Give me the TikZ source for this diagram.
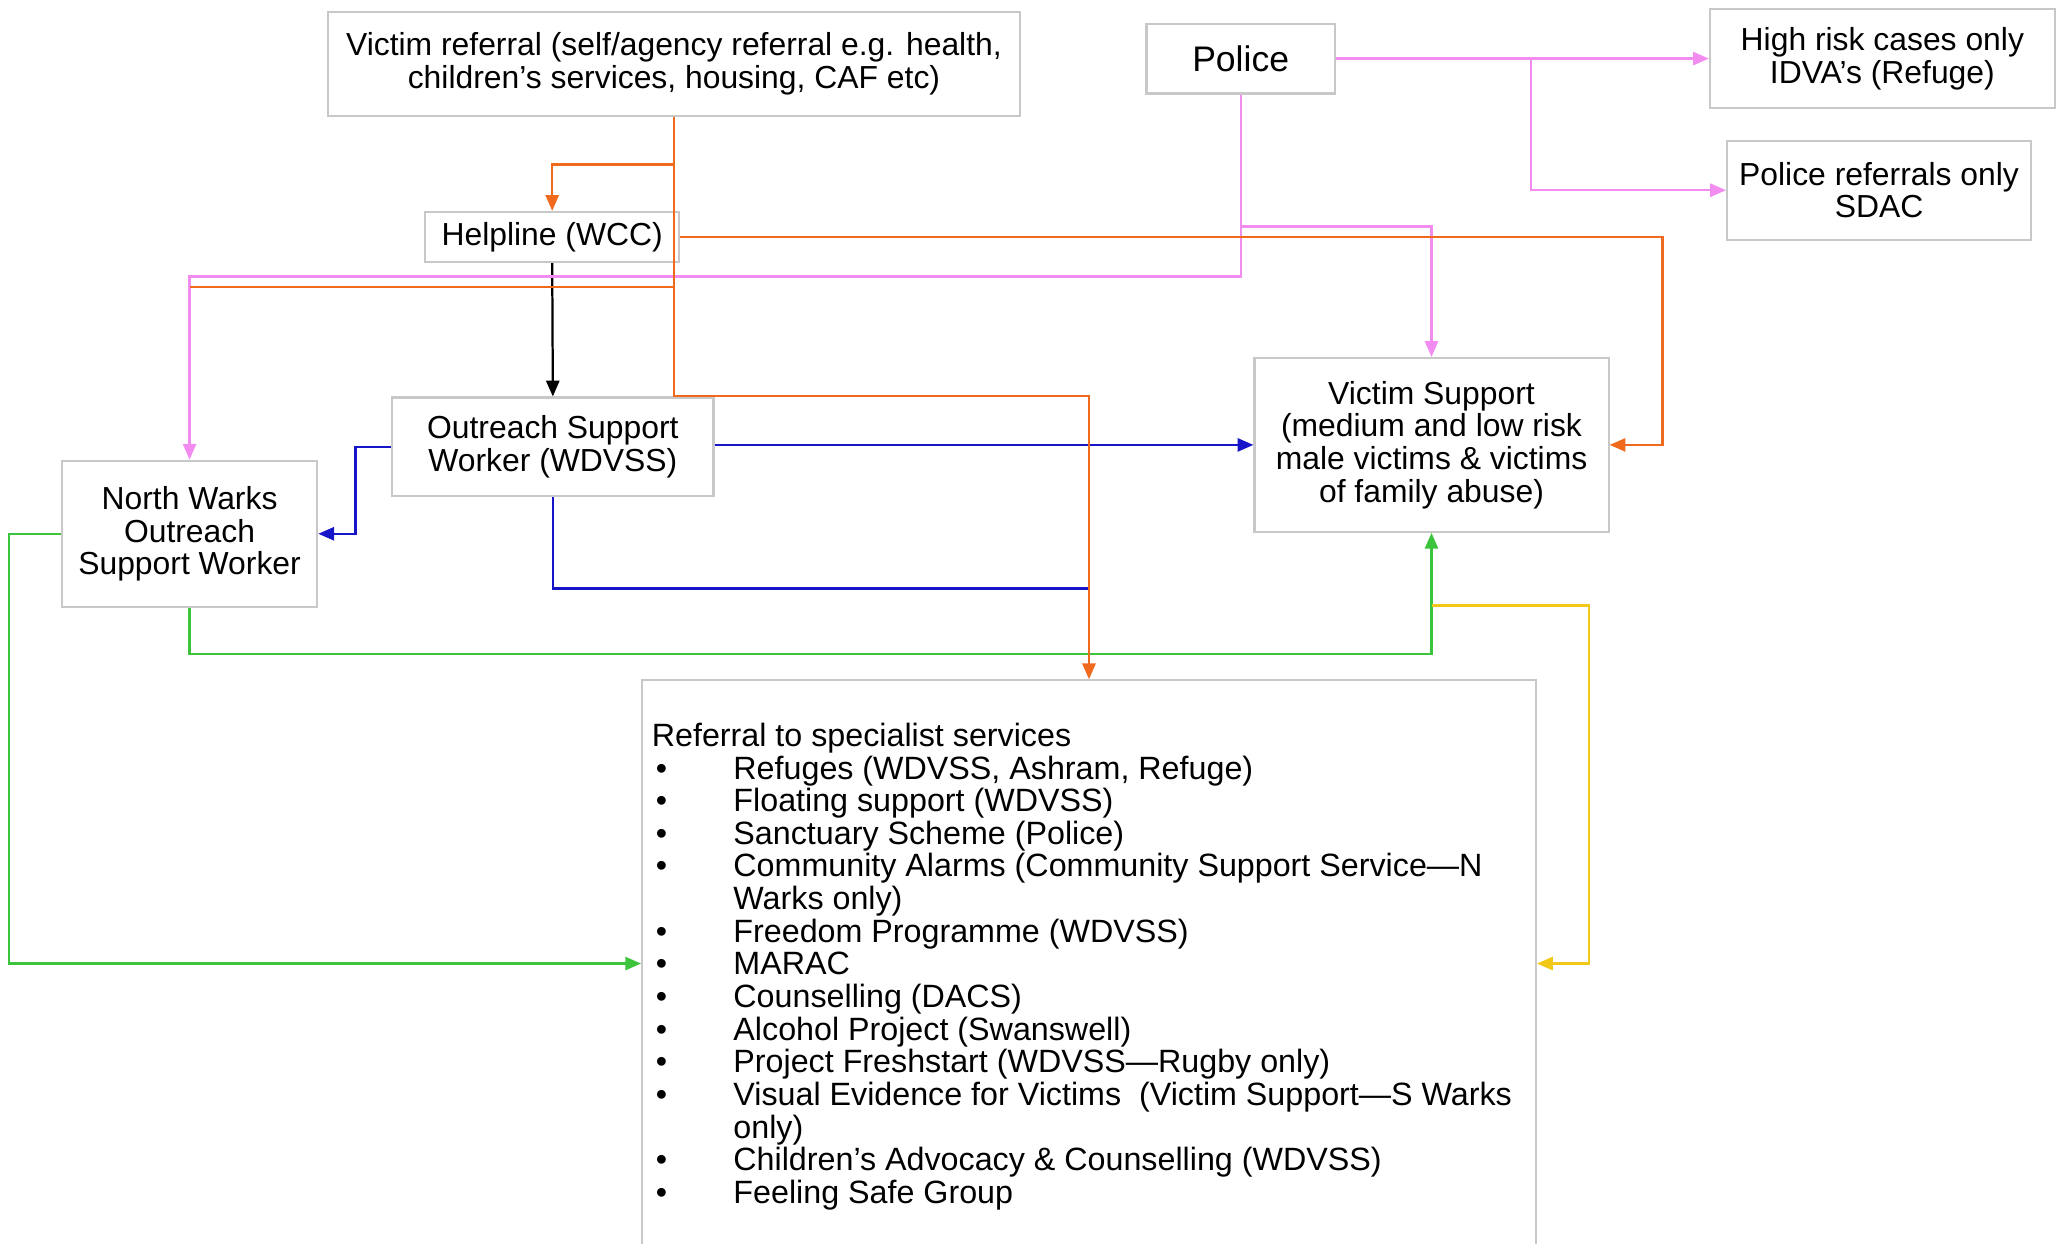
\documentclass[tikz,border=0pt]{standalone}
\usepackage{fontspec}
\setmainfont{Liberation Sans}
\usetikzlibrary{arrows.meta}
\definecolor{cOr}{HTML}{F06A1E}
\definecolor{cPk}{HTML}{F28CF0}
\definecolor{cBl}{HTML}{1616C8}
\definecolor{cGr}{HTML}{3CC43C}
\definecolor{cYe}{HTML}{F2C818}
\definecolor{boxgray}{HTML}{C8C8C8}
\newcommand\bitem[1]{\hspace{3pt}\textbullet & \smash{#1}\\}
\newcommand\citem[1]{ & \smash{#1}\\}
\begin{document}
\begin{tikzpicture}[x=1pt,y=-1pt,
  box/.style={draw=boxgray, line width=1.6pt, fill=white, inner sep=0pt, align=center,
    font=\fontsize{24.2}{24.8}\selectfont},
  conn/.style={line width=1.7pt, -{Triangle[length=12pt,width=10pt]}},
  plain/.style={line width=1.7pt}]
\useasboundingbox (0,0) rectangle (1568,945);
\clip (0,0) rectangle (1568,945);

% boxes
\node[box, minimum width=526pt, minimum height=79pt] (vr) at (512,48.5)
  {Victim referral (self/agency referral e.g. health,\\children’s services, housing, CAF etc)};
\node[box, minimum width=143pt, minimum height=53pt, font=\fontsize{27}{30}\selectfont] (police) at (942.5,44.5) {Police};
\node[box, minimum width=262pt, minimum height=75pt] (high) at (1430,44.5)
  {High risk cases only\\IDVA’s (Refuge)};
\node[box, minimum width=231pt, minimum height=75pt] (pref) at (1427.5,144.5)
  {Police referrals only\\SDAC};
\node[box, minimum width=193pt, minimum height=38pt] (help) at (419.5,180) {Helpline (WCC)};
\node[box, minimum width=244pt, minimum height=75pt] (osw) at (420,339.5)
  {Outreach Support\\Worker (WDVSS)};
\node[box, minimum width=269pt, minimum height=132pt] (vs) at (1087.5,338)
  {Victim Support\\(medium and low risk\\male victims \& victims\\of family abuse)};
\node[box, minimum width=194pt, minimum height=111pt] (nw) at (144,405.5)
  {North Warks\\Outreach\\Support Worker};
\node[box, anchor=north west, minimum width=679pt, minimum height=520pt] (ref) at (487,516) {};
\node[anchor=base west, inner sep=0pt, font=\fontsize{24.5}{24.8}\selectfont] (reftext) at (495,567)
  {\begin{tabular}[t]{@{}p{62pt}@{}l@{}}
  \multicolumn{2}{@{}l@{}}{\smash{Referral to specialist services}}\\
  \bitem{Refuges (WDVSS, Ashram, Refuge)}
  \bitem{Floating support (WDVSS)}
  \bitem{Sanctuary Scheme (Police)}
  \bitem{Community Alarms (Community Support Service—N}
  \citem{Warks only)}
  \bitem{Freedom Programme (WDVSS)}
  \bitem{MARAC}
  \bitem{Counselling (DACS)}
  \bitem{Alcohol Project (Swanswell)}
  \bitem{Project Freshstart (WDVSS—Rugby only)}
  \bitem{Visual Evidence for Victims\ \ (Victim Support—S Warks}
  \citem{only)}
  \bitem{Children’s Advocacy \& Counselling (WDVSS)}
  \hspace{3pt}\textbullet & \smash{Feeling Safe Group}
  \end{tabular}};

% helper coordinates
\coordinate (oJ1) at (512,125);
\coordinate (oJ2) at (512,218);
\coordinate (oJ3) at (512,301);
\coordinate (pJ1) at (942.5,172);
\coordinate (pJ2) at (1163,44.5);
\coordinate (yL) at (0,732);
\coordinate (ystart) at (1087.5,460);

% green
\draw[conn,cGr] (nw.south) -- (144,497) -| (vs.south);
\draw[conn,cGr] (nw.west) -- (7,405.5) |- (ref.west |- yL);
% yellow
\draw[conn,cYe] (ystart) -- (1207,460) |- (ref.east |- yL);
% blue
\draw[conn,cBl] (osw.east |- vs.west) -- (vs.west);
\draw[conn,cBl] (osw.west) -- (270,339.5) |- (nw.east);
\draw[plain,cBl] (osw.south) |- (826.5,447);
% black
\draw[conn,black] (help.south) -- (osw.north);
% pink
\draw[conn,cPk] (police.south) -- (942.5,210) -| (nw.north);
\draw[conn,cPk] (pJ1) -| (vs.north);
\draw[conn,cPk] (police.east) -- (high.west);
\draw[conn,cPk] (pJ2) |- (pref.west);
% orange
\draw[conn,cOr] (vr.south) -- (oJ3) -| (ref.north);
\draw[conn,cOr] (oJ1) -| (help.north);
\draw[plain,cOr] (oJ2) -- (oJ2 -| nw.north);
\draw[conn,cOr] (help.east) -- (1263,180) -- (1263,338) -- (vs.east);
\end{tikzpicture}
\end{document}
